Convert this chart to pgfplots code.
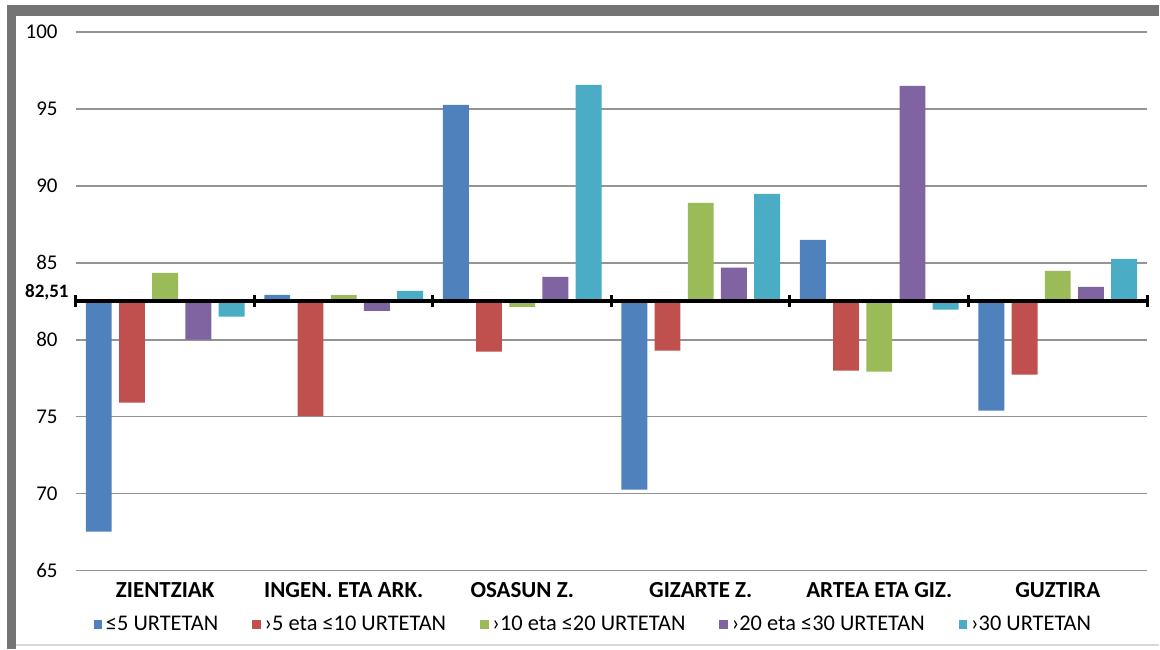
\documentclass[border=0pt]{standalone}
\usepackage{pgfplots}
\pgfplotsset{compat=1.18}
\usepackage{pgfplotstable}
\usepackage{fontspec}
\setmainfont{Carlito}
\definecolor{c1}{HTML}{4F81BD}
\definecolor{c2}{HTML}{C0504D}
\definecolor{c3}{HTML}{9BBB59}
\definecolor{c4}{HTML}{8064A2}
\definecolor{c5}{HTML}{4BACC6}
\definecolor{framegray}{HTML}{747474}

\pgfplotstableread{
x a b c d e
0 67.53 75.91 84.35 80.00 81.50
1 82.92 75.05 82.90 81.88 83.18
2 95.26 79.22 82.14 84.09 96.56
3 70.26 79.29 88.90 84.68 89.48
4 86.49 77.99 77.92 96.49 81.95
5 75.39 77.73 84.48 83.44 85.26
}\data

\begin{document}
\begin{tikzpicture}
\fill[white] (0pt,0pt) rectangle (580pt,325pt);
\fill[framegray] (3.5pt,0pt) rectangle (8pt,322.5pt);
\fill[framegray] (3.5pt,317pt) -- (580pt,317pt) -- (580pt,322.5pt) -- (3.5pt,322.5pt) -- cycle;
\draw[black!15, line width=1pt] (8pt,2pt) -- (580pt,2pt);
\begin{axis}[
  at={(38pt,39.5pt)}, anchor=south west,
  scale only axis, width=536pt, height=269.5pt,
  xmin=-0.5, xmax=5.5,
  ymin=-17.51, ymax=17.49,
  ytick={-17.51,-12.51,-7.51,-2.51,2.49,7.49,12.49,17.49},
  yticklabels={65,70,75,80,85,90,95,100},
  xtick={0,1,2,3,4,5},
  xticklabels={ZIENTZIAK,INGEN. ETA ARK.,OSASUN Z.,GIZARTE Z.,ARTEA ETA GIZ.,GUZTIRA},
  /pgf/number format/assume math mode=true,
  axis line style={draw=none},
  major tick length=0pt,
  ymajorgrids,
  major grid style={line width=0.8pt, color=black!42},
  yticklabel style={font=\fontsize{10.5}{12}\selectfont, inner sep=0pt, xshift=-9pt},
  xticklabel style={font=\fontsize{11.5}{13}\selectfont\bfseries, inner sep=0pt, yshift=-6pt},
  clip=false,
  legend columns=5,
  legend image code/.code={\draw[#1,draw=none] (0pt,-2.2pt) rectangle (4.2pt,2.2pt);},
  legend style={at={(0.484,0)}, anchor=center, yshift=-27pt, draw=none,
    font=\fontsize{11.2}{12}\selectfont,
    /tikz/every even column/.append style={column sep=15pt}},
]
\addplot[ybar, bar width=0.145, bar shift=-0.372, fill=c1, draw=none] table[x=x, y expr=\thisrow{a}-82.51]{\data};
\addplot[ybar, bar width=0.145, bar shift=-0.186, fill=c2, draw=none] table[x=x, y expr=\thisrow{b}-82.51]{\data};
\addplot[ybar, bar width=0.145, bar shift=0, fill=c3, draw=none] table[x=x, y expr=\thisrow{c}-82.51]{\data};
\addplot[ybar, bar width=0.145, bar shift=0.186, fill=c4, draw=none] table[x=x, y expr=\thisrow{d}-82.51]{\data};
\addplot[ybar, bar width=0.145, bar shift=0.372, fill=c5, draw=none] table[x=x, y expr=\thisrow{e}-82.51]{\data};
\legend{≤5 URTETAN, ›5 eta ≤10 URTETAN, ›10 eta ≤20 URTETAN, ›20 eta ≤30 URTETAN, ›30 URTETAN}
\draw[black, line width=2pt] (axis cs:-0.5,0) -- (axis cs:5.5,0);
\pgfplotsinvokeforeach{-0.5,0.5,1.5,2.5,3.5,4.5,5.5}{
  \draw[black, line width=1.5pt] (axis cs:#1,0) ++(0pt,-3pt) -- ++(0pt,6pt);
}
\node[anchor=east, inner sep=0pt, font=\fontsize{9.5}{10}\selectfont\bfseries] at (axis cs:-0.5,0) [xshift=-3.5pt, yshift=4.5pt] {82,51};
\end{axis}
\end{tikzpicture}
\end{document}
